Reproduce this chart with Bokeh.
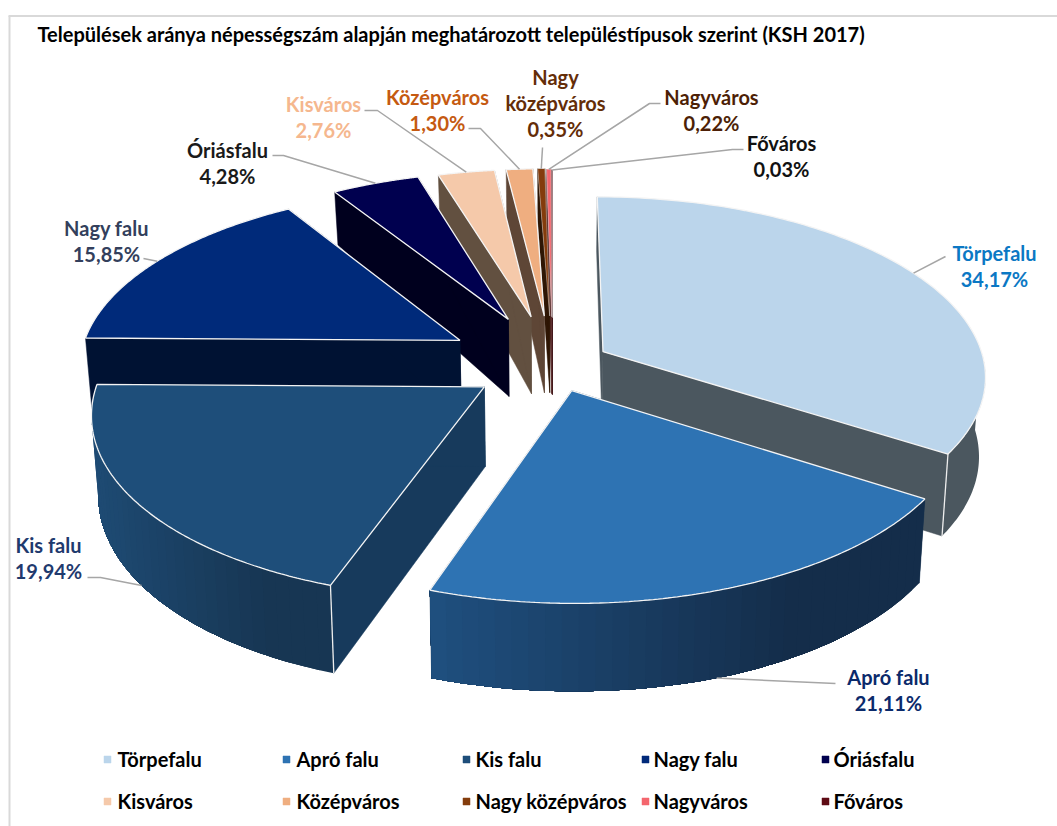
import numpy as np
from bokeh.plotting import figure
from bokeh.models import Range1d
from bokeh.core.properties import value
from bokeh.embed import file_html
from bokeh.resources import INLINE

TITLE = "Települések aránya népességszám alapján meghatározott településtípusok szerint (KSH 2017)"
categories = ["Törpefalu", "Apró falu", "Kis falu", "Nagy falu", "Óriásfalu",
              "Kisváros", "Középváros", "Nagy középváros", "Nagyváros", "Főváros"]
shares = [34.17, 21.11, 19.94, 15.85, 4.28, 2.76, 1.30, 0.35, 0.22, 0.03]
colors = ["#bbd5eb", "#2e73b3", "#1e4e7a", "#002a7a", "#00004f",
          "#f5c9aa", "#efae80", "#843c0c", "#f4666e", "#5f0b14"]
side_colors = ["#4b575f", "#163250", "#173a5c", "#001233", "#00001e",
               "#625040", "#5e4636", "#2e1604", "#5a2a2a", "#300508"]
wall_left = ["#4b575f", "#1f5080", "#1e4b74", "#001233", "#00001e",
             "#625040", "#5e4636", "#2e1604", "#5a2a2a", "#300508"]
wall_right = ["#4b575f", "#142d4a", "#173653", "#001233", "#00001e",
              "#625040", "#5e4636", "#2e1604", "#5a2a2a", "#300508"]
label_colors = ["#0b78c4", "#0b2a6b", "#1f3a6e", "#333f5c", "#1a1a1a",
                "#f5b78e", "#c55a11", "#642d08", "#4d1f06", "#111111"]

# projection of the exploded 3-D pie
CX, CY, R, K, F = 552.0, 364.0, 382.0, 0.466, 2956.0
EXPLODE = [58, 58, 82, 108, 110, 108, 108, 108, 106, 104]
DRAW_ORDER = [9, 8, 7, 6, 5, 4, 3, 0, 2, 1]
WALL_Z = [-420, -104, 182, 415]
WALL_T = [53, 77, 82, 88]

FONT = value("Lato")
LABEL_PX = "20px"

# label layout: centre x, first line centre y; leader bend points
label_lines = [["Törpefalu", "34,17%"], ["Apró falu", "21,11%"], ["Kis falu", "19,94%"],
               ["Nagy falu", "15,85%"], ["Óriásfalu", "4,28%"], ["Kisváros", "2,76%"],
               ["Középváros", "1,30%"], ["Nagy", "középváros", "0,35%"],
               ["Nagyváros", "0,22%"], ["Főváros", "0,03%"]]
label_pos = [(994, 252), (888, 676), (48, 544), (106, 227), (227, 149),
             (323, 103), (437, 96), (555, 76), (711, 96), (781, 142)]
leader_bends = [[(945, 256)], [(835, 683)], [(87, 577), (100, 577)], [(143, 258)],
                [(272, 155), (283, 155)], [(364, 110), (377, 110)],
                [(468, 128), (480, 128)], [(542, 147)], [(660, 103), (649, 103)],
                [(743, 149), (732, 149)]]
leader_on_wall = [False, True, True, False, False, False, False, False, False, False]
legend_marker_x = [107, 286, 466, 645, 825]
legend_text_x = [117, 296, 475, 653, 833]
legend_y = [758, 800]

p = figure(width=1057, height=826, x_range=Range1d(0, 1057), y_range=Range1d(826, 0),
           output_backend="svg", toolbar_location=None, min_border=0)
p.axis.visible = False
p.grid.visible = False
p.outline_line_color = None
p.background_fill_color = "white"


def project(X, Z):
    s = 1.0 / (1.0 - Z / F)
    return CX + X * s, CY + K * Z * s


def ground(theta_deg, radius, ox, oz):
    th = np.radians(theta_deg)
    return ox + radius * np.sin(th), oz - radius * np.cos(th)


def bottom(x, y, Z):
    return CX + (x - CX) * 0.985, y + np.interp(Z, WALL_Z, WALL_T)


def hex_mix(a, b, t):
    ca = [int(a[i:i + 2], 16) for i in (1, 3, 5)]
    cb = [int(b[i:i + 2], 16) for i in (1, 3, 5)]
    return "#%02x%02x%02x" % tuple(int(round(u + (v - u) * t)) for u, v in zip(ca, cb))


# frame
p.line([8, 1057], [15.5, 15.5], line_color="#d9d9d9", line_width=2)
p.line([9, 9], [15.5, 826], line_color="#d9d9d9", line_width=2)

edges = np.cumsum([0.0] + shares) / sum(shares) * 360.0

for i in DRAW_ORDER:
    a0, a1 = edges[i], edges[i + 1]
    mid = 0.5 * (a0 + a1)
    ox, oz = ground(mid, EXPLODE[i], 0, 0)
    ax, ay = project(ox, oz)
    abx, aby = bottom(ax, ay, oz)

    # radial walls
    for a in (a0, a1):
        gx, gz = ground(a, R, ox, oz)
        x1, y1 = project(gx, gz)
        x2, y2 = bottom(x1, y1, gz)
        p.patch([ax, x1, x2, abx], [ay, y1, y2, aby], fill_color=side_colors[i],
                line_color=side_colors[i], line_width=0.5)

    # outer wall: overlapping steps so that it can carry its shading without seams
    lo, hi = max(a0, 90.0), min(a1, 270.0)
    if hi > lo:
        th = np.linspace(lo, hi, 71)
        gx, gz = ground(th, R, ox, oz)
        x1, y1 = project(gx, gz)
        x2, y2 = bottom(x1, y1, gz)
        xmin, xmax = x1.min(), x1.max()
        xs, ys, cs = [], [], []
        steps = range(0, len(th) - 1, 2) if wall_left[i] != wall_right[i] else [0]
        for j in steps:
            t = (x1[j] - xmin) / max(xmax - xmin, 1.0)
            xs.append(np.concatenate([x1[j:], x2[j:][::-1]]))
            ys.append(np.concatenate([y1[j:], y2[j:][::-1]]))
            cs.append(hex_mix(wall_left[i], wall_right[i], min(t / 0.75, 1.0)))
        p.patches(xs, ys, fill_color=cs, line_color=None)
        # white vertical corner where a radial wall meets the outer wall in view
        if a1 < 180:
            p.line([x1[-1], x2[-1]], [y1[-1], y2[-1]], line_color="#eeeeee", line_width=1.3)
        elif a0 > 180:
            p.line([x1[0], x2[0]], [y1[0], y2[0]], line_color="#eeeeee", line_width=1.3)

    # top face
    th = np.linspace(a0, a1, 121)
    gx, gz = ground(th, R, ox, oz)
    tx, ty = project(gx, gz)
    px = np.concatenate([[ax], tx])
    py = np.concatenate([[ay], ty])
    p.patch(px, py, fill_color=colors[i], line_color="#f4f4f4",
            line_width=1.3 if shares[i] >= 1 else 0.4)

# leaders and labels
for i in range(len(categories)):
    mid = 0.5 * (edges[i] + edges[i + 1])
    ox, oz = ground(mid, EXPLODE[i], 0, 0)
    gx, gz = ground(mid, R, ox, oz)
    ex, ey = project(gx, gz)
    if leader_on_wall[i]:
        ex, ey = bottom(ex, ey, gz)
    pts = leader_bends[i] + [(float(ex), float(ey))]
    p.line([q[0] for q in pts], [q[1] for q in pts], line_color="#a6a6a6", line_width=1.5)
    lx, ly = label_pos[i]
    for n, txt in enumerate(label_lines[i]):
        p.text([lx], [ly + n * 26], text=[txt], text_font=FONT, text_font_style="bold",
               text_font_size=LABEL_PX, text_color=label_colors[i],
               text_align="center", text_baseline="middle")

# title
p.text([37], [33], text=[TITLE], text_font=FONT, text_font_style="bold",
       text_font_size="20px", text_color="#000000", text_align="left", text_baseline="middle")

# legend
for i, name in enumerate(categories):
    row, col = divmod(i, 5)
    p.scatter([legend_marker_x[col]], [legend_y[row] + 1], marker="square", size=7,
              fill_color=colors[i], line_color=colors[i], line_width=0.5)
    p.text([legend_text_x[col]], [legend_y[row]], text=[name], text_font=FONT,
           text_font_style="bold", text_font_size=LABEL_PX, text_color="#000000",
           text_align="left", text_baseline="middle")

open("out.html", "w").write(file_html(p, INLINE))
